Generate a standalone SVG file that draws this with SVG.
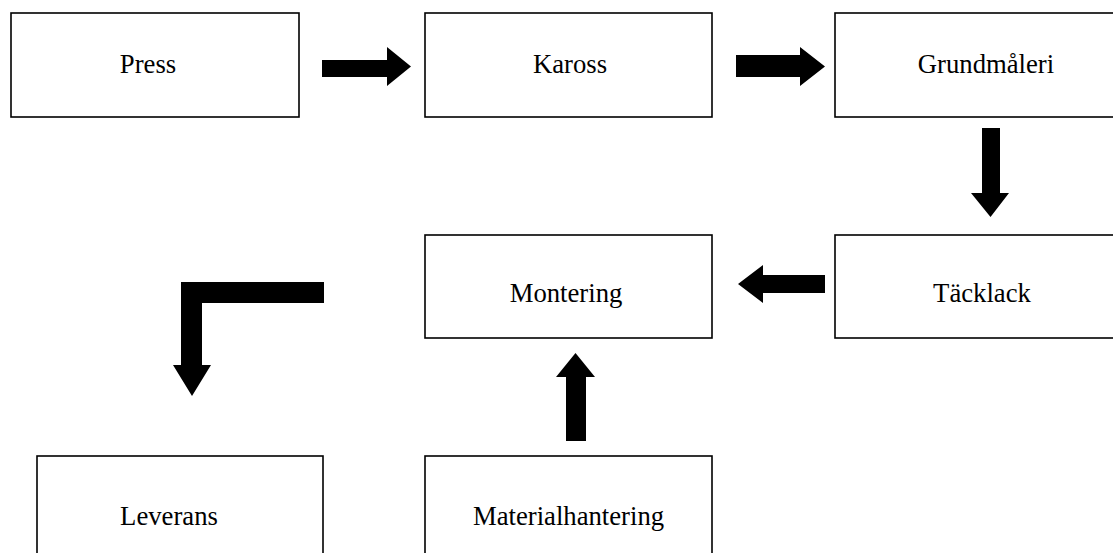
<svg xmlns="http://www.w3.org/2000/svg" width="1113" height="553" viewBox="0 0 1113 553">
<style>
.box{fill:#fff;stroke:#000;stroke-width:1.6}
.lbl{font-family:"Liberation Serif","Times New Roman",serif;font-size:26.7px;fill:#000;text-anchor:middle}
.arr{fill:#000;stroke:none}
</style>
<rect width="1113" height="553" fill="#fff"/>
<g id="press"><rect class="box" x="11" y="13" width="288" height="104"/><text class="lbl" x="148" y="73">Press</text></g>
<g id="kaross"><rect class="box" x="425" y="13" width="287" height="104"/><text class="lbl" x="570" y="73">Kaross</text></g>
<g id="grundmaleri"><rect class="box" x="835" y="13" width="300" height="104"/><text class="lbl" x="986" y="73">Grundmåleri</text></g>
<g id="tacklack"><rect class="box" x="835" y="235" width="300" height="103"/><text class="lbl" x="982" y="302">Täcklack</text></g>
<g id="montering"><rect class="box" x="425" y="235" width="287" height="103"/><text class="lbl" x="566" y="302">Montering</text></g>
<g id="leverans"><rect class="box" x="37" y="456" width="286" height="110"/><text class="lbl" x="169" y="525">Leverans</text></g>
<g id="materialhantering"><rect class="box" x="425" y="456" width="287" height="110"/><text class="lbl" x="568.5" y="525">Materialhantering</text></g>
<g id="connectors">
<polygon class="arr" points="322,60 387,60 387,47 411,66.5 387,86 387,77 322,77"/>
<polygon class="arr" points="736,55 800,55 800,47 825,66.5 800,86 800,77 736,77"/>
<polygon class="arr" points="982,128 1000,128 1000,193 1009,193 990.5,217 971,193 982,193"/>
<polygon class="arr" points="825,275 763,275 763,265 738,284 763,303 763,293 825,293"/>
<polygon class="arr" points="324,282 181,282 181,365 173,365 192,396 211,365 202,365 202,303 324,303"/>
<polygon class="arr" points="566,441 566,377 556,377 575.5,353 595,377 586,377 586,441"/>
</g>
</svg>
